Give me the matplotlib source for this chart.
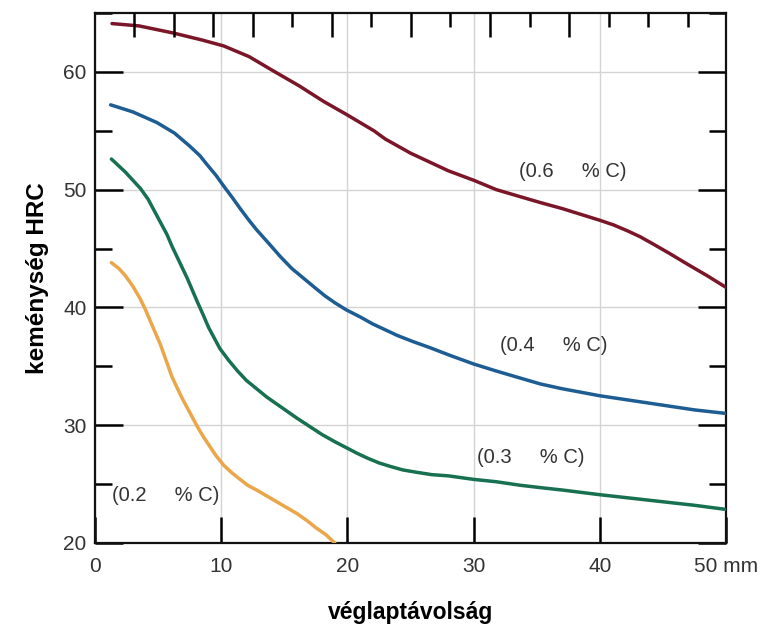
import numpy as np
import matplotlib
matplotlib.use("Agg")
from matplotlib import pyplot as plt
from matplotlib.ticker import MultipleLocator, FixedLocator

plt.rcParams['font.family'] = ['Liberation Sans', 'DejaVu Sans']

# distance from quenched end (mm) and hardness (HRC)
x_06 = [1.35, 3.5, 6.2, 8.5, 10.2, 12.2, 14.1, 16.2, 18.1, 19.9, 21.0, 22.1, 23.0, 24.0, 25.0, 26.0, 27.0, 28.0, 29.0, 30.0, 31.8, 33.7, 35.3, 37.0, 38.5, 40.0, 41.1, 42.2, 43.2, 44.2, 45.5, 46.9, 48.5, 50.0]
y_06 = [64.1, 63.9, 63.3, 62.7, 62.2, 61.3, 60.1, 58.8, 57.5, 56.4, 55.7, 55.0, 54.3, 53.7, 53.1, 52.6, 52.1, 51.6, 51.2, 50.8, 50.0, 49.4, 48.9, 48.4, 47.9, 47.4, 47.0, 46.5, 46.0, 45.4, 44.6, 43.7, 42.7, 41.7]

x_04 = [1.24, 3.0, 4.9, 6.3, 7.5, 8.3, 8.9, 9.6, 10.2, 10.9, 11.5, 12.2, 12.8, 13.8, 14.7, 15.6, 16.5, 17.4, 18.2, 19.0, 19.9, 21.0, 22.0, 23.0, 24.0, 25.2, 26.5, 28.2, 30.0, 31.8, 33.7, 35.3, 37.0, 38.5, 40.0, 42.5, 45.0, 47.5, 50.0]
y_04 = [57.2, 56.6, 55.7, 54.8, 53.7, 52.9, 52.1, 51.2, 50.3, 49.3, 48.4, 47.4, 46.6, 45.4, 44.3, 43.3, 42.5, 41.7, 41.0, 40.4, 39.8, 39.2, 38.6, 38.1, 37.6, 37.1, 36.6, 35.9, 35.2, 34.6, 34.0, 33.5, 33.1, 32.8, 32.5, 32.1, 31.7, 31.3, 31.0]

x_03 = [1.3, 2.4, 3.6, 4.2, 4.7, 5.2, 5.7, 6.1, 6.5, 6.9, 7.3, 7.7, 8.1, 8.6, 9.0, 9.5, 9.9, 10.6, 11.3, 12.0, 12.8, 13.6, 14.4, 15.2, 16.0, 17.0, 18.0, 19.0, 19.9, 20.8, 21.6, 22.5, 23.4, 24.4, 25.5, 26.7, 28.0, 30.0, 31.8, 33.7, 35.3, 37.0, 38.5, 40.0, 42.5, 45.0, 47.5, 50.0]
y_03 = [52.6, 51.5, 50.1, 49.2, 48.2, 47.2, 46.2, 45.2, 44.3, 43.4, 42.5, 41.5, 40.5, 39.3, 38.3, 37.3, 36.5, 35.5, 34.6, 33.8, 33.1, 32.4, 31.8, 31.2, 30.6, 29.9, 29.2, 28.6, 28.1, 27.6, 27.2, 26.8, 26.5, 26.2, 26.0, 25.8, 25.7, 25.4, 25.2, 24.9, 24.7, 24.5, 24.3, 24.1, 23.8, 23.5, 23.2, 22.85]

x_02 = [1.3, 1.9, 2.4, 3.0, 3.6, 4.0, 4.4, 4.8, 5.2, 5.5, 5.8, 6.1, 6.5, 6.9, 7.3, 7.7, 8.1, 8.6, 9.1, 9.6, 10.2, 10.8, 11.5, 12.1, 12.8, 13.6, 14.4, 15.2, 16.0, 16.8, 17.5, 18.3, 19.0]
y_02 = [43.8, 43.3, 42.7, 41.8, 40.7, 39.8, 38.8, 37.8, 36.8, 35.9, 35.0, 34.1, 33.2, 32.3, 31.5, 30.7, 29.9, 29.0, 28.2, 27.4, 26.6, 26.0, 25.4, 24.9, 24.5, 24.0, 23.5, 23.0, 22.5, 21.9, 21.3, 20.7, 20.0]

curves = [
    (x_06, y_06, "#7a1628", "(0.6     % C)", 33.6, 51.5),
    (x_04, y_04, "#1d5d93", "(0.4     % C)", 32.1, 36.8),
    (x_03, y_03, "#17704f", "(0.3     % C)", 30.3, 27.3),
    (x_02, y_02, "#eba64a", "(0.2     % C)", 1.35, 24.0),
]

x_ticks = [0, 10, 20, 30, 40, 50]
x_ticklabels = ["0", "10", "20", "30", "40", "50 mm"]
y_ticks = [20, 30, 40, 50, 60]

fig = plt.figure(figsize=(7.63, 6.33), dpi=100)
ax = fig.add_axes([0.1245, 0.1422, 0.827, 0.8373])

for xs, ys, col, label, tx, ty in curves:
    ax.plot(xs, ys, color=col, lw=2.5, solid_capstyle="round", solid_joinstyle="round", zorder=3)
    ax.text(tx, ty, label, fontsize=14.5, color="#333333", va="center", ha="left", zorder=4)

ax.set_xlim(0, 50)
ax.set_ylim(20, 65)
ax.set_xticks(x_ticks)
ax.set_xticklabels(x_ticklabels)
ax.set_yticks(y_ticks)
ax.yaxis.set_minor_locator(MultipleLocator(5))
ax.grid(True, which="major", color="#d4d4d4", lw=1.0, zorder=0)

ax.tick_params(axis="y", which="major", direction="in", length=20, width=1.8,
               left=True, right=True, labelsize=15, labelcolor="#333333", pad=6)
ax.tick_params(axis="y", which="minor", direction="in", length=12, width=1.8,
               left=True, right=True)
ax.tick_params(axis="x", which="major", direction="in", length=18.5, width=1.8,
               bottom=True, top=False, labelsize=15, labelcolor="#333333", pad=10)
for s in ax.spines.values():
    s.set_linewidth(1.6)
    s.set_color("#111111")

# top scale (inch-type ruler ticks)
top = ax.twiny()
top.set_xlim(0, 50)
step = 3.13
long_k = [1, 2, 3, 4, 6, 8, 10, 12]
short_k = [5, 7, 9, 11, 13, 14, 15]
top.xaxis.set_major_locator(FixedLocator([k * step for k in long_k]))
top.xaxis.set_minor_locator(FixedLocator([k * step for k in short_k]))
top.tick_params(axis="x", which="major", direction="in", length=17, width=1.8, labeltop=False)
top.tick_params(axis="x", which="minor", direction="in", length=10, width=1.8)
for s in top.spines.values():
    s.set_visible(False)

ax.set_xlabel("véglaptávolság", fontsize=16.5, fontweight="bold", labelpad=18)
ax.set_ylabel("keménység HRC", fontsize=17.5, fontweight="bold", labelpad=10)

fig.savefig("out.png", dpi=100)
